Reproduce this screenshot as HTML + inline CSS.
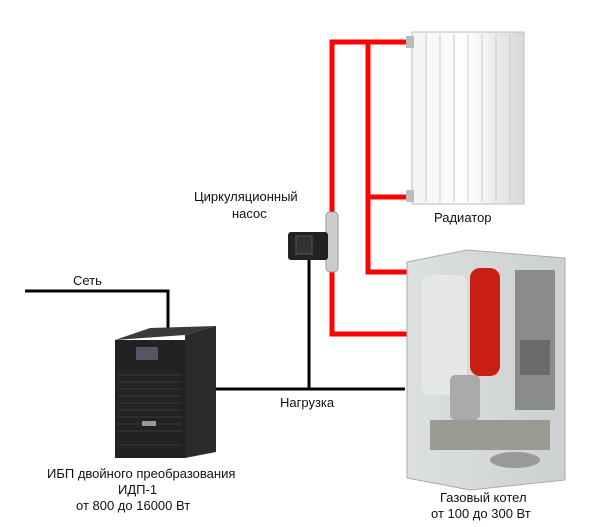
<!DOCTYPE html><html><head><style>body{margin:0;background:#fff}svg{display:block}text{font-family:"Liberation Sans",sans-serif;font-size:13px;fill:#111}</style></head><body>
<svg width="600" height="527" viewBox="0 0 600 527">
<defs>
<linearGradient id="rad" x1="0" x2="1"><stop offset="0" stop-color="#f4f4f4"/><stop offset=".5" stop-color="#fff"/><stop offset="1" stop-color="#d8d8d8"/></linearGradient>
<linearGradient id="boil" x1="0" x2="1"><stop offset="0" stop-color="#dde0e0"/><stop offset="1" stop-color="#cdd0d0"/></linearGradient>
</defs>
<g stroke="#f00" stroke-width="5" fill="none">
<polyline points="412,42 332,42 332,334 410,334"/>
<polyline points="368,42 368,272 410,272"/>
<line x1="368" y1="197" x2="412" y2="197"/>
</g>
<g stroke="#000" stroke-width="3" fill="none">
<polyline points="25,291 168,291 168,328"/>
<line x1="214" y1="389" x2="405" y2="389"/>
<line x1="309" y1="258" x2="309" y2="389"/>
</g>
<g>
<rect x="412" y="32" width="112" height="172" fill="url(#rad)" stroke="#bbb"/>
<g stroke="#c8c8c8">
<line x1="426" y1="34" x2="426" y2="202"/><line x1="440" y1="34" x2="440" y2="202"/><line x1="454" y1="34" x2="454" y2="202"/><line x1="468" y1="34" x2="468" y2="202"/><line x1="482" y1="34" x2="482" y2="202"/><line x1="496" y1="34" x2="496" y2="202"/><line x1="510" y1="34" x2="510" y2="202"/>
</g>
<rect x="406" y="36" width="8" height="12" fill="#bbb"/><rect x="406" y="190" width="8" height="12" fill="#bbb"/>
</g>
<rect x="326" y="212" width="12" height="60" rx="4" fill="#ccc" stroke="#999"/>
<rect x="288" y="232" width="40" height="28" rx="3" fill="#222"/>
<rect x="296" y="236" width="16" height="18" fill="#333" stroke="#555"/>
<polygon points="185,335 216,326 216,452 185,458" fill="#2a2a2a"/>
<polygon points="115,340 185,335 216,326 150,328" fill="#3a3a3a"/>
<rect x="115" y="340" width="70" height="118" fill="#222"/>
<rect x="136" y="347" width="22" height="13" fill="#556"/>
<g stroke="#333" stroke-width="1.5"><line x1="118" y1="375" x2="182" y2="375"/><line x1="118" y1="382" x2="182" y2="382"/><line x1="118" y1="389" x2="182" y2="389"/><line x1="118" y1="396" x2="182" y2="396"/><line x1="118" y1="403" x2="182" y2="403"/><line x1="118" y1="410" x2="182" y2="410"/><line x1="118" y1="417" x2="182" y2="417"/><line x1="118" y1="424" x2="182" y2="424"/><line x1="118" y1="431" x2="182" y2="431"/><line x1="118" y1="445" x2="182" y2="445"/></g>
<rect x="142" y="421" width="14" height="5" fill="#999"/>
<polygon points="407,262 467,250 565,258 565,480 470,490 407,478" fill="url(#boil)" stroke="#aaa"/>
<rect x="422" y="275" width="45" height="120" rx="8" fill="#e6e8e8"/>
<rect x="515" y="270" width="40" height="140" fill="#8a8c8c"/>
<rect x="520" y="340" width="30" height="35" fill="#6a6a6a"/>
<rect x="470" y="268" width="30" height="108" rx="10" fill="#c81e14"/>
<rect x="450" y="375" width="30" height="45" rx="5" fill="#aaa"/>
<rect x="430" y="420" width="120" height="30" fill="#9a9a90"/>
<ellipse cx="515" cy="460" rx="25" ry="8" fill="#999"/>
<text x="73" y="285">Сеть</text>
<text x="194" y="201">Циркуляционный</text>
<text x="232" y="218">насос</text>
<text x="434" y="222">Радиатор</text>
<text x="280" y="407">Нагрузка</text>
<text x="47" y="478">ИБП двойного преобразования</text>
<text x="118" y="494">ИДП-1</text>
<text x="76" y="510">от 800 до 16000 Вт</text>
<text x="440" y="502">Газовый котел</text>
<text x="431" y="518">от 100 до 300 Вт</text>
</svg>
</body></html>
